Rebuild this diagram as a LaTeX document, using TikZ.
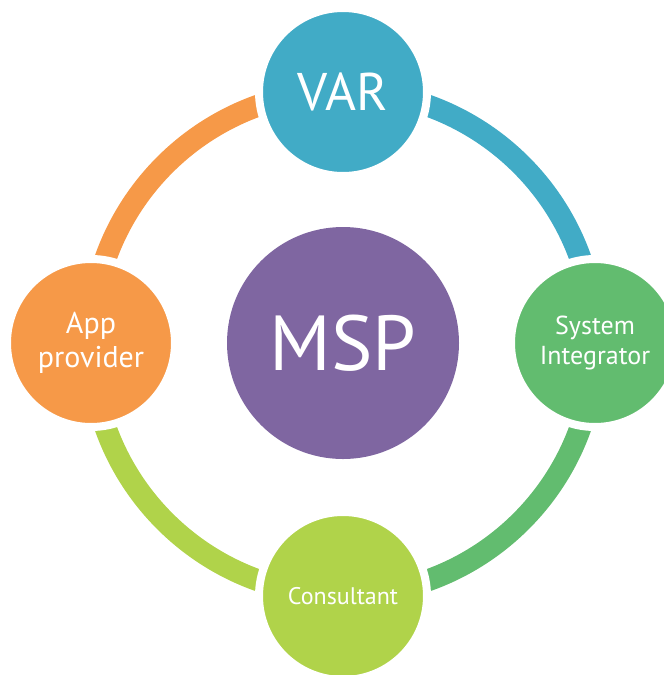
\documentclass[tikz,border=0pt]{standalone}
\usepackage{fontspec}
\setmainfont{PT Sans}
\usetikzlibrary{positioning}

\definecolor{varblue}{HTML}{41ABC6}
\definecolor{sigreen}{HTML}{62BC6F}
\definecolor{conlime}{HTML}{B0D34A}
\definecolor{apporange}{HTML}{F69948}
\definecolor{msppurple}{HTML}{7F66A1}

\tikzset{
    partner/.style={circle, fill=#1, draw=white, line width=8pt, minimum size=168pt,
        inner sep=0pt, text=white, align=center},
    hub/.style={circle, fill=msppurple, minimum size=232pt, inner sep=0pt, text=white},
    ring/.style={line width=22pt, #1}
}

\begin{document}
\begin{tikzpicture}[x=1pt, y=-1pt]
    \useasboundingbox (0,0) rectangle (664,675);
    \clip (0,0) rectangle (664,675);

    % Centre
    \node[hub, font=\fontsize{78}{80}\selectfont] (msp) at (343,343) {MSP};

    % Ring
    \draw[ring=varblue] ([shift={(90:-252)}]msp.center) arc[start angle=-90, end angle=0, radius=252];
    \draw[ring=sigreen] ([shift={(0:252)}]msp.center) arc[start angle=0, end angle=90, radius=252];
    \draw[ring=conlime] ([shift={(90:252)}]msp.center) arc[start angle=90, end angle=180, radius=252];
    \draw[ring=apporange] ([shift={(180:252)}]msp.center) arc[start angle=180, end angle=270, radius=252];

    % Partners
    \node[partner=varblue, font=\fontsize{53}{55}\selectfont] (var) at (343,92) {VAR};
    \node[partner=sigreen, font=\fontsize{26}{30}\selectfont] (si) at (595,343) {System\\Integrator};
    \node[partner=conlime, font=\fontsize{24}{26}\selectfont] (con) at (343,596) {Consultant};
    \node[partner=apporange, font=\fontsize{30}{34}\selectfont] (app) at (91,343) {App\\provider};
\end{tikzpicture}
\end{document}
